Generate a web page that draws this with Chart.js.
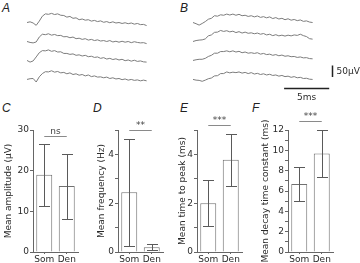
<!DOCTYPE html>
<html>
<head>
<meta charset="utf-8">
<script src="https://cdn.jsdelivr.net/npm/chart.js@4.4.1/dist/chart.umd.min.js"></script>
<style>
  body { margin: 0; width: 360px; height: 263px; background: #fff; position: relative; overflow: hidden; }
  .box { position: absolute; }
  .lbl { position: absolute; font: italic 12px "Liberation Sans", Arial, sans-serif; line-height: 12px; color: #222; }
</style>
</head>
<body>
<div class="lbl" style="left:2px;top:2px">A</div>
<div class="lbl" style="left:180px;top:2px">B</div>
<div class="lbl" style="left:2px;top:102px">C</div>
<div class="lbl" style="left:93px;top:102px">D</div>
<div class="lbl" style="left:180px;top:102px">E</div>
<div class="lbl" style="left:252px;top:102px">F</div>

<div class="box" style="left:27px;top:8px;width:120px;height:95px"><canvas id="trA"></canvas></div>
<div class="box" style="left:193px;top:8px;width:167px;height:95px"><canvas id="trB"></canvas></div>
<div class="box" style="left:0px;top:100px;width:85px;height:163px"><canvas id="barC"></canvas></div>
<div class="box" style="left:85px;top:100px;width:85px;height:163px"><canvas id="barD"></canvas></div>
<div class="box" style="left:170px;top:100px;width:80px;height:163px"><canvas id="barE"></canvas></div>
<div class="box" style="left:255px;top:100px;width:85px;height:163px"><canvas id="barF"></canvas></div>

<script>
// example traces (uV), sampled every dtMs
const dtMs = 0.34;
const traceA1 = [0, 3, -2, -12, 6, 27, 37, 35, 39, 34, 37, 31, 30, 23, 26, 18, 20, 12, 15, 10, 12, 6, 9, 4, 7, 1, 4, -1, 3, -2, 0, -4, -1, -5, -2, -7, -4, -9, -8, -13];
const traceA2 = [0, -4, -6, -2, 19, 31, 29, 33, 27, 30, 25, 26, 20, 21, 16, 19, 12, 14, 9, 12, 6, 9, 4, 7, 2, 4, 0, 4, -2, 1, -3, 1, -3, 0, -5, -1, -4, -6, -5, -9];
const traceA3 = [0, -7, -2, 15, 33, 42, 41, 45, 39, 42, 36, 37, 30, 30, 26, 28, 22, 24, 19, 22, 16, 18, 13, 15, 9, 12, 6, 9, 4, 7, 2, 5, -1, 2, -3, 1, -4, -2, -6, -7];
const traceA4 = [0, 3, 4, -11, 11, 25, 33, 32, 37, 31, 34, 28, 30, 24, 28, 21, 24, 18, 21, 15, 19, 12, 15, 10, 11, 7, 10, 4, 7, 2, 4, -1, 2, -3, 0, -4, -2, -6, -3, -6];
const traceB1 = [0, -5, -11, -4, 4, 14, 18, 29, 27, 33, 31, 36, 32, 36, 31, 35, 29, 31, 26, 29, 24, 28, 22, 25, 20, 24, 17, 21, 15, 18, 12, 16, 10, 13, 8, 11, 5, 7, 2, 0];
const traceB2 = [0, 4, 6, 7, 11, 24, 28, 39, 40, 47, 43, 46, 41, 44, 38, 42, 36, 40, 35, 37, 33, 36, 31, 34, 28, 31, 25, 29, 24, 27, 23, 27, 24, 28, 26, 31, 25, 21, 12, 10];
const traceB3 = [0, 3, 5, 5, 9, 17, 22, 31, 31, 38, 38, 41, 37, 41, 36, 39, 33, 36, 31, 33, 30, 33, 27, 30, 25, 27, 22, 25, 20, 23, 18, 20, 16, 17, 13, 15, 11, 12, 8, 7];
const traceB4 = [0, -3, -4, -8, -3, 3, 6, 15, 16, 25, 25, 32, 28, 31, 29, 32, 27, 30, 25, 29, 23, 26, 21, 24, 19, 22, 17, 19, 14, 17, 12, 14, 9, 12, 7, 9, 4, 5, 1, 0];

// group summaries (mean, SD)
const groups = ["Som", "Den"];
const ampMean = [19.0, 16.2],  ampErr = [7.6, 8.0];
const freqMean = [2.45, 0.19], freqErr = [2.2, 0.12];
const peakMean = [2.0, 3.78],  peakErr = [0.95, 1.07];
const decayMean = [6.7, 9.7],  decayErr = [1.7, 2.3];
const sigLabels = ["ns", "**", "***", "***"];

const FONT = '"DejaVu Sans", sans-serif';
const AXIS = '#666';
const TEXT = '#2b2b2b';

// ---- traces ----
const uvPerPx = 4.27, pxPerMs = 9.02, yTopUv = 62, traceGapUv = 81;

function traceSets(list) {
  return list.map((tr, i) => ({
    data: tr.map((v, k) => ({ x: k * dtMs, y: v - i * traceGapUv })),
    borderColor: '#7c7c7c', borderWidth: 1, pointRadius: 0, tension: 0
  }));
}

const scaleBars = {
  id: 'scaleBars',
  afterDraw(chart) {
    const { ctx, scales: { x, y } } = chart;
    const vx = Math.round(x.getPixelForValue(15.4)) + 0.5;
    const v0 = y.getPixelForValue(-183), v1 = y.getPixelForValue(-183 - 50);
    const hy = Math.round(y.getPixelForValue(-279)) + 0.5;
    const h0 = x.getPixelForValue(10.1), h1 = x.getPixelForValue(15.1);
    ctx.save();
    ctx.strokeStyle = '#222'; ctx.lineWidth = 1.5;
    ctx.beginPath();
    ctx.moveTo(vx, v0); ctx.lineTo(vx, v1);
    ctx.moveTo(h0, hy); ctx.lineTo(h1, hy);
    ctx.stroke();
    ctx.fillStyle = TEXT; ctx.font = '9px ' + FONT;
    ctx.textBaseline = 'middle'; ctx.textAlign = 'left';
    ctx.fillText('50µV', vx + 4, (v0 + v1) / 2);
    ctx.textAlign = 'center';
    ctx.fillText('5ms', (h0 + h1) / 2, hy + 9);
    ctx.restore();
  }
};

function traceChart(id, list, widthPx, heightPx, extra) {
  new Chart(document.getElementById(id), {
    type: 'line',
    data: { datasets: traceSets(list) },
    options: {
      responsive: true, maintainAspectRatio: false, animation: false,
      layout: { padding: 0 },
      plugins: { legend: { display: false }, tooltip: { enabled: false } },
      scales: {
        x: { type: 'linear', display: false, min: 0, max: widthPx / pxPerMs },
        y: { display: false, max: yTopUv, min: yTopUv - heightPx * uvPerPx }
      }
    },
    plugins: extra || []
  });
}

traceChart('trA', [traceA1, traceA2, traceA3, traceA4], 120, 95);
traceChart('trB', [traceB1, traceB2, traceB3, traceB4], 167, 95, [scaleBars]);

// ---- bar panels ----
const errorBars = {
  id: 'errorBars',
  afterDatasetsDraw(chart) {
    const { ctx } = chart, y = chart.scales.y;
    const ds = chart.data.datasets[0];
    ctx.save();
    ctx.strokeStyle = '#5a5a5a'; ctx.lineWidth = 1;
    chart.getDatasetMeta(0).data.forEach((bar, i) => {
      const m = ds.data[i], e = ds.errors[i];
      const x = Math.round(bar.x) + 0.5;
      const t = Math.round(y.getPixelForValue(m + e)) + 0.5;
      const b = Math.round(y.getPixelForValue(Math.max(m - e, 0))) + 0.5;
      ctx.beginPath();
      ctx.moveTo(x, t); ctx.lineTo(x, b);
      ctx.moveTo(x - 5.5, t); ctx.lineTo(x + 5.5, t);
      ctx.moveTo(x - 5.5, b); ctx.lineTo(x + 5.5, b);
      ctx.stroke();
    });
    ctx.restore();
  }
};

const sigAndTitle = {
  id: 'sigAndTitle',
  afterDraw(chart, args, opts) {
    const { ctx, chartArea: ca, scales: { x, y } } = chart;
    const ds = chart.data.datasets[0];
    const top = Math.max(...ds.data.map((m, i) => m + ds.errors[i]));
    const ly = Math.round(y.getPixelForValue(top * 1.075)) + 0.5;
    const x0 = x.getPixelForValue(0), x1 = x.getPixelForValue(1);
    ctx.save();
    ctx.strokeStyle = '#8a8a8a'; ctx.lineWidth = 1;
    ctx.beginPath(); ctx.moveTo(x0, ly); ctx.lineTo(x1, ly); ctx.stroke();
    ctx.fillStyle = '#444'; ctx.textAlign = 'center'; ctx.textBaseline = 'bottom';
    ctx.font = '9px ' + FONT;
    ctx.fillText(opts.sig, (x0 + x1) / 2, ly - 0.5);
    ctx.translate(ca.left - opts.titleOffset, (ca.top + ca.bottom) / 2);
    ctx.rotate(-Math.PI / 2);
    ctx.fillStyle = TEXT; ctx.textBaseline = 'middle';
    ctx.fillText(opts.title, 0, 0);
    ctx.restore();
  }
};

function barChart(id, means, errs, sig, title, yMax, labelStep, minorStep, axisW, padRight, titleOffset) {
  new Chart(document.getElementById(id), {
    type: 'bar',
    data: {
      labels: groups,
      datasets: [{
        data: means, errors: errs,
        backgroundColor: '#fff', borderColor: '#707070', borderWidth: 1,
        barPercentage: 0.71, categoryPercentage: 1
      }]
    },
    options: {
      responsive: true, maintainAspectRatio: false, animation: false,
      layout: { padding: { top: 30, right: padRight, bottom: 0, left: 0 } },
      plugins: {
        legend: { display: false }, tooltip: { enabled: false },
        sigAndTitle: { sig: sig, title: title, titleOffset: titleOffset }
      },
      scales: {
        x: {
          grid: { drawOnChartArea: false, offset: false, tickLength: 2, color: AXIS },
          border: { color: AXIS },
          ticks: { padding: 0, color: TEXT, font: { family: FONT, size: 9 }, maxRotation: 0, autoSkip: false },
          afterFit: s => { s.height = 11; }
        },
        y: {
          min: 0, max: yMax,
          grid: { drawOnChartArea: false, tickLength: 3, color: AXIS },
          border: { color: AXIS },
          ticks: {
            stepSize: minorStep, padding: 1, color: TEXT, autoSkip: false,
            font: { family: FONT, size: 9 },
            callback: v => (Math.abs(v / labelStep - Math.round(v / labelStep)) < 1e-6 ? String(v) : '')
          },
          afterFit: s => { s.width = axisW; }
        }
      }
    },
    plugins: [errorBars, sigAndTitle]
  });
}

barChart('barC', ampMean, ampErr, sigLabels[0], 'Mean amplitude (µV)', 30, 10, 10, 33, 7, 24);
barChart('barD', freqMean, freqErr, sigLabels[1], 'Mean frequency (Hz)', 5, 2, 1, 33, 7, 16.5);
barChart('barE', peakMean, peakErr, sigLabels[2], 'Mean time to peak (ms)', 5, 2, 1, 27, 8, 14);
barChart('barF', decayMean, decayErr, sigLabels[3], 'Mean decay time constant (ms)', 12, 2, 1, 33, 7, 22);
</script>
</body>
</html>
